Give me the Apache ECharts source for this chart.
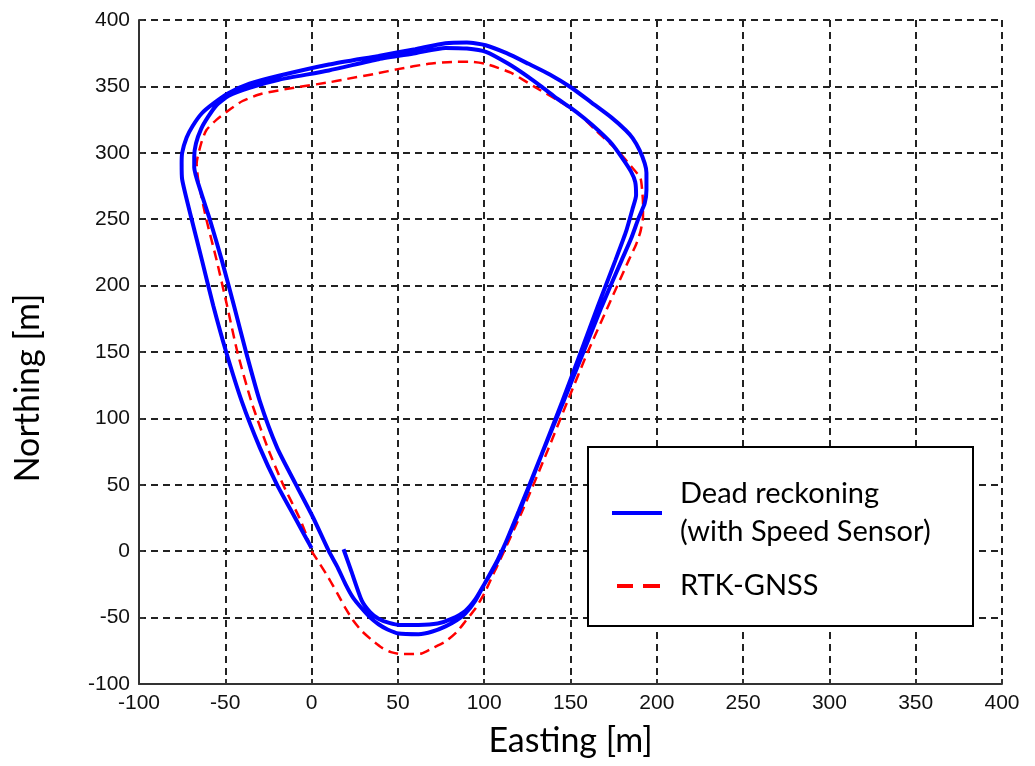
<!DOCTYPE html>
<html>
<head>
<meta charset="utf-8">
<script src="https://cdn.jsdelivr.net/npm/echarts@6/dist/echarts.min.js"></script>
<style>
  html, body { margin: 0; padding: 0; background: #fff; }
  #chart { width: 1035px; height: 766px; }
</style>
</head>
<body>
<div id="chart"></div>
<script>
// Vehicle trajectory in local ENU coordinates [Easting m, Northing m]

// Dead reckoning with speed sensor: two laps, starting near (18, 2)
const deadReckoning = [
  [18.5, 1.5], [23, -15], [29, -37], [34, -46], [39, -51], [45, -54], [51, -55.5],
  [62, -55.5], [73, -54.5], [81, -51], [89, -45], [95, -36], [100, -25], [108, -7],
  [120, 30], [133, 72], [145, 112], [156, 150], [166, 185], [176, 219], [182, 240],
  [186, 258], [188, 268], [187.5, 278], [185, 286], [180, 296], [173.8, 307],
  [166, 317], [158, 326], [150, 334], [141, 342], [133, 350], [125.7, 357],
  [114, 367], [101, 376], [90, 378.5], [77.6, 379], [60, 375], [38.8, 370.5],
  [10, 362], [-19, 355], [-36, 349], [-48, 343], [-55, 336], [-60, 327], [-64, 318],
  [-67, 307], [-68, 297], [-68, 289], [-64, 270], [-59, 250], [-52, 219],
  [-45, 185], [-38, 150], [-30, 113], [-20, 78], [-9, 50], [1, 25],
  [10, 0], [15, -12], [19.7, -25], [24, -35], [29, -43], [34, -50], [38.8, -55],
  [44, -59], [50.4, -62], [62, -62.5], [70, -60.5], [77.6, -56.6], [84, -52],
  [89, -47], [95, -37], [100, -25], [108, -6],
  [121, 32], [134, 75], [146, 113], [157.5, 150], [168, 184], [179.6, 219],
  [185, 235], [189.5, 251], [193, 262], [194, 272], [194, 285], [193, 292],
  [190, 302], [186, 311], [182, 317], [173.8, 326.5], [162, 338], [150.6, 349],
  [138, 359], [125.7, 367], [113, 375], [100.8, 381], [90, 383], [77.6, 382.5],
  [60, 378], [38.8, 373], [10, 366.5], [-19, 358], [-36, 352], [-48, 345],
  [-57, 337], [-63.7, 329.6], [-69, 320], [-72.4, 311.5], [-75, 300], [-75.3, 292],
  [-75, 280], [-69.5, 250], [-63.5, 219], [-57, 185], [-49.5, 150], [-40.5, 113],
  [-30, 78], [-20, 50], [-9.5, 25], [-4.5, 13], [0, 2.3]
];

// RTK-GNSS reference trajectory
const rtkGnss = [
  [0, 0], [5, -10], [9.8, -20], [15, -32], [19.7, -43], [24, -52], [29, -60],
  [35, -67], [40.5, -72.5], [46, -76], [52, -77.5], [58, -77.5], [63.7, -77],
  [70, -73], [77.6, -68], [84, -61], [89, -53], [95, -43], [100, -32], [105, -18],
  [108, -10], [122, 30], [136.5, 75], [148, 112], [160, 150], [172, 185],
  [183.7, 219], [188, 231], [190.6, 241], [192, 252], [192, 262], [191.5, 272],
  [190.5, 281], [185, 290], [177, 302], [164.5, 317], [154.7, 329.6], [142, 340],
  [130, 349], [116, 360], [108, 364], [100.8, 367], [92, 368.5], [83, 368.5],
  [67.8, 367], [50, 363], [38.8, 360], [20, 355.5], [9.8, 353], [-10, 349],
  [-29, 344.5], [-40, 339], [-48, 332], [-55, 325], [-61, 317], [-64, 307],
  [-66.6, 292], [-65.5, 278], [-61, 250], [-55, 219], [-49, 185], [-43, 150],
  [-35, 113], [-25.5, 78], [-16.5, 50], [-7, 25], [-3, 12], [0, 0]
];

const seriesNames = ['Dead reckoning (with Speed Sensor)', 'RTK-GNSS'];
const legendLabels = {
  'Dead reckoning (with Speed Sensor)': 'Dead reckoning\n(with Speed Sensor)',
  'RTK-GNSS': 'RTK-GNSS'
};
const xAxisName = 'Easting [m]';
const yAxisName = 'Northing [m]';
const axisMin = -100, axisMax = 400, axisStep = 50;

const tickFont = { fontFamily: 'Liberation Sans', fontSize: 21, color: '#111' };
const nameFont = { fontFamily: 'Lato', fontSize: 34, color: '#000' };
const legendFont = { fontFamily: 'Lato', fontSize: 29, color: '#000' };
const axisLineStyle = { color: '#333', width: 2 };
const gridLineStyle = { color: '#222', width: 2, type: [7, 5] };

// legend swatches: solid bar and two dashes, 50 x 4 units
const solidIcon = 'path://M0 0H50V4H0Z';
const dashIcon = 'path://M0 0M50 4M5 0H21V4H5Z M31 0H48V4H31Z';

const chart = echarts.init(document.getElementById('chart'), null, { renderer: 'canvas' });

chart.setOption({
  backgroundColor: '#fff',
  animation: false,
  grid: { left: 139, right: 33, top: 20, bottom: 82, containLabel: false, outerBoundsMode: 'none' },
  xAxis: {
    type: 'value', min: axisMin, max: axisMax, interval: axisStep,
    name: xAxisName, nameLocation: 'middle', nameGap: 40,
    nameTextStyle: nameFont,
    axisLine: { show: true, onZero: false, lineStyle: axisLineStyle },
    axisTick: { show: true, inside: true, length: 5, lineStyle: axisLineStyle },
    axisLabel: Object.assign({ margin: 9 }, tickFont),
    splitLine: { show: true, lineStyle: gridLineStyle }
  },
  yAxis: {
    type: 'value', min: axisMin, max: axisMax, interval: axisStep,
    name: yAxisName, nameLocation: 'middle', nameGap: 94,
    nameTextStyle: Object.assign({ padding: [0, 72, 0, 0] }, nameFont),
    axisLine: { show: true, onZero: false, lineStyle: axisLineStyle },
    axisTick: { show: true, inside: true, length: 5, lineStyle: axisLineStyle },
    axisLabel: Object.assign({ margin: 9 }, tickFont),
    splitLine: { show: true, lineStyle: gridLineStyle }
  },
  graphic: [{
    type: 'rect', z: 5,
    shape: { x: 588, y: 447, width: 385, height: 179 },
    style: { fill: '#fff', stroke: '#000', lineWidth: 2 }
  }],
  legend: {
    orient: 'vertical', left: 612, top: 466, padding: 0, itemGap: 7,
    itemWidth: 50, itemHeight: 14, z: 6,
    formatter: name => legendLabels[name],
    textStyle: Object.assign({ lineHeight: 38, padding: [0, 0, 0, 13] }, legendFont),
    data: [
      { name: seriesNames[0], icon: solidIcon, textStyle: { padding: [0, 0, 18, 13] } },
      { name: seriesNames[1], icon: dashIcon }
    ]
  },
  series: [
    {
      name: seriesNames[0], type: 'line', data: deadReckoning,
      symbol: 'none', smooth: 0.2, z: 3,
      lineStyle: { color: '#0000ff', width: 4 },
      itemStyle: { color: '#0000ff' }
    },
    {
      name: seriesNames[1], type: 'line', data: rtkGnss,
      symbol: 'none', smooth: 0.2, z: 2,
      lineStyle: { color: '#ff0000', width: 2.5, type: [10, 6] },
      itemStyle: { color: '#ff0000' }
    }
  ]
});
</script>
</body>
</html>
